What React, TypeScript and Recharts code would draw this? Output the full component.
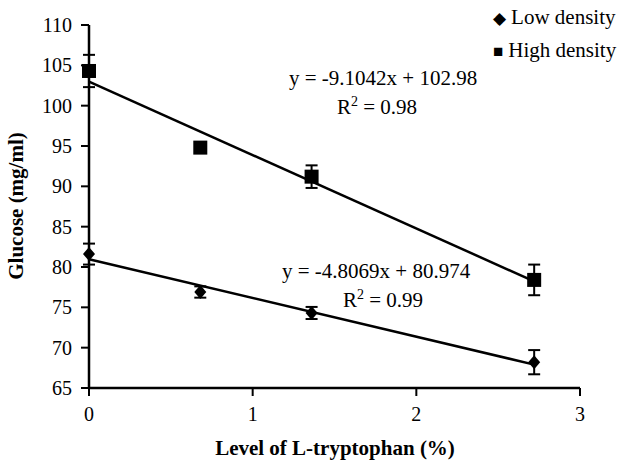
import { ScatterChart, Scatter, XAxis, YAxis, ErrorBar } from 'recharts';

const levels = [0, 0.68, 1.36, 2.72];
const lowGlucose = [81.6, 76.9, 74.3, 68.2];
const lowErr = [1.3, 0.7, 0.75, 1.5];
const highGlucose = [104.3, 94.8, 91.2, 78.4];
const highErr = [2.0, 0.3, 1.4, 1.9];

const trendX = [0, 2.72];
const lowTrendY = [80.97, 67.9];
const highTrendY = [102.98, 78.22];

const xTicks = [0, 1, 2, 3];
const yTicks = [65, 70, 75, 80, 85, 90, 95, 100, 105, 110];

const lowData = levels.map((x, i) => ({ x, y: lowGlucose[i], err: lowErr[i] }));
const highData = levels.map((x, i) => ({ x, y: highGlucose[i], err: highErr[i] }));
const lowTrend = trendX.map((x, i) => ({ x, y: lowTrendY[i] }));
const highTrend = trendX.map((x, i) => ({ x, y: highTrendY[i] }));

const FONT = 'Liberation Serif, DejaVu Serif, serif';

const SquareShape = (props: any) => {
    const { cx, cy } = props;
    return <rect x={cx - 7} y={cy - 7} width={14} height={14} fill="#000" />;
};

const DiamondShape = (props: any) => {
    const { cx, cy } = props;
    return <polygon points={`${cx},${cy - 7} ${cx + 6},${cy} ${cx},${cy + 7} ${cx - 6},${cy}`} fill="#000" />;
};

const NoShape = () => <g />;

const textStyle = { position: 'absolute' as const, fontFamily: FONT, fontSize: 21, color: '#000', whiteSpace: 'nowrap' as const, lineHeight: '24px' };

export default function App() {
    return (
        <div style={{ position: 'absolute', left: 0, top: 0, width: 625, height: 464, background: '#fff', fontFamily: FONT }}>
            <ScatterChart width={625} height={464} margin={{ top: 25, right: 45, bottom: 36, left: 5 }}>
                <XAxis
                    type="number"
                    dataKey="x"
                    domain={[0, 3]}
                    ticks={xTicks}
                    height={40}
                    stroke="#000"
                    tickSize={8}
                    tickMargin={11}
                    axisLine={{ stroke: '#000', strokeWidth: 2.5 }}
                    tickLine={{ stroke: '#000', strokeWidth: 2 }}
                    tick={{ fill: '#000', fontSize: 20, fontFamily: FONT }}
                />
                <YAxis
                    type="number"
                    dataKey="y"
                    domain={[65, 110]}
                    ticks={yTicks}
                    width={84}
                    stroke="#000"
                    tickSize={8}
                    tickMargin={9}
                    axisLine={{ stroke: '#000', strokeWidth: 2.5 }}
                    tickLine={{ stroke: '#000', strokeWidth: 2 }}
                    tick={{ fill: '#000', fontSize: 20, fontFamily: FONT }}
                />
                <Scatter data={highTrend} line={{ stroke: '#000', strokeWidth: 2.5 }} shape={NoShape} legendType="none" isAnimationActive={false} />
                <Scatter data={lowTrend} line={{ stroke: '#000', strokeWidth: 2.5 }} shape={NoShape} legendType="none" isAnimationActive={false} />
                <Scatter data={highData} shape={SquareShape} isAnimationActive={false}>
                    <ErrorBar dataKey="err" direction="y" width={6} stroke="#000" strokeWidth={2} />
                </Scatter>
                <Scatter data={lowData} shape={DiamondShape} isAnimationActive={false}>
                    <ErrorBar dataKey="err" direction="y" width={6} stroke="#000" strokeWidth={2} />
                </Scatter>
            </ScatterChart>

            <div style={{ ...textStyle, left: 16, top: 206, fontWeight: 'bold', transform: 'translate(-50%, -50%) rotate(-90deg)' }}>
                Glucose (mg/ml)
            </div>
            <div style={{ ...textStyle, left: 335, top: 448, fontWeight: 'bold', transform: 'translate(-50%, -50%)' }}>
                Level of L-tryptophan (%)
            </div>

            <div style={{ ...textStyle, left: 289, top: 66 }}>y = -9.1042x + 102.98</div>
            <div style={{ ...textStyle, left: 337, top: 95 }}>R<sup style={{ fontSize: 14, lineHeight: 0 }}>2</sup> = 0.98</div>
            <div style={{ ...textStyle, left: 282, top: 259 }}>y = -4.8069x + 80.974</div>
            <div style={{ ...textStyle, left: 343, top: 288 }}>R<sup style={{ fontSize: 14, lineHeight: 0 }}>2</sup> = 0.99</div>

            <div style={{ ...textStyle, left: 493, top: 5 }}>
                <span style={{ fontSize: 17, marginRight: 5 }}>◆</span>Low density
            </div>
            <div style={{ ...textStyle, left: 493, top: 38 }}>
                <span style={{ fontSize: 17, marginRight: 5 }}>■</span>High density
            </div>
        </div>
    );
}
